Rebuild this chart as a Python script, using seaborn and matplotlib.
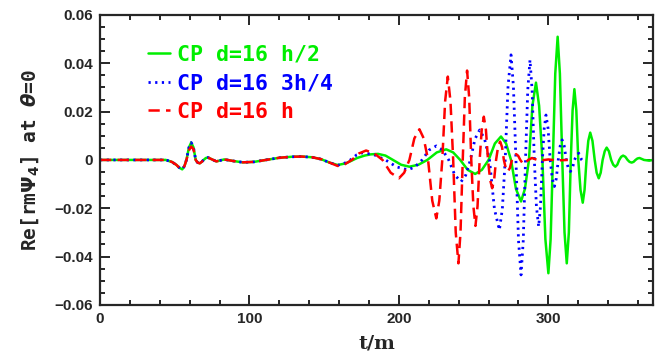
import numpy as np
import pandas as pd
import matplotlib
matplotlib.use("Agg")
import matplotlib.pyplot as plt
import seaborn as sns
from matplotlib.ticker import MultipleLocator, FuncFormatter

# ---------------- data ----------------
labels = ["CP d=16 h/2", "CP d=16 3h/4", "CP d=16 h"]
colors = ["#00ee00", "#0000ff", "#ff0000"]

t_early = [0, 44, 48, 51, 53, 55, 56.5, 57.8, 59.5, 61, 62.5, 64, 65.3, 66.7, 68, 69.3,
           70.8, 72.2, 75, 77.8, 80.5, 83, 86, 88.7, 95.6, 103, 111, 120, 128, 135,
           142, 148, 154]
v_early_gb = [0, 0, -0.0008, -0.002, -0.0032, -0.0039, -0.0025, 0, 0.0052, 0.0072,
              0.0052, 0, -0.0011, -0.0014, -0.0008, 0, 0.0008, 0.001, 0.0002, -0.0006,
              -0.0002, 0.0002, -0.0001, -0.0004, -0.001, -0.0008, 0, 0.0009, 0.0013, 0.0014,
              0.0011, 0.0003, -0.0012]
v_early_r = [0, 0, -0.0008, -0.002, -0.0032, -0.0039, -0.0025, 0, 0.0040, 0.0055,
             0.0045, 0, -0.0011, -0.0014, -0.0008, 0, 0.0008, 0.001, 0.0002, -0.0006,
             -0.0002, 0.0002, -0.0001, -0.0004, -0.001, -0.0008, 0, 0.0009, 0.0013, 0.0014,
             0.0011, 0.0003, -0.0012]

t_green = [159, 164.5, 168, 172, 177, 181, 186,
           191, 196, 201.5, 207,
           213, 219, 225.3, 231.6,
           236.3, 241, 246, 251,
           255.5, 260, 264.2, 268.3,
           271.7, 275, 278.3, 281.7,
           284.3, 287, 289.3, 291.7,
           293.8, 296, 298, 300,
           301.5, 303, 304.6, 306.2,
           307.7, 309.3, 310.8, 312.3,
           313.7, 315, 316.2, 317.4,
           318.7, 320, 321.5, 323,
           324.2, 325.5, 326.7, 328,
           329.5, 331, 332.3, 333.7,
           335, 336.3, 337.7, 339,
           340.5, 342, 343.4, 344.8,
           346.1, 347.4, 348.7, 350,
           351.5, 353, 354.3, 355.7,
           357, 358.3, 359.6, 361,
           364, 367.5, 370]
v_green = [-0.0021, -0.0014, -0.0004, 0.0008, 0.0018, 0.0023, 0.0025,
           0.0018, 0, -0.002, -0.0028,
           -0.002, 0, 0.0031, 0.0044,
           0.0031, 0, -0.0041, -0.0058,
           -0.0041, 0, 0.0068, 0.0097,
           0.0068, 0, -0.012, -0.0172,
           -0.012, 0, 0.0224, 0.032,
           0.0224, 0, -0.0328, -0.0469,
           -0.0328, 0, 0.0357, 0.051,
           0.0357, 0, -0.030, -0.0428,
           -0.030, 0, 0.0205, 0.0293,
           0.0205, 0, -0.0124, -0.0177,
           -0.0124, 0, 0.0079, 0.0113,
           0.0079, 0, -0.0053, -0.0076,
           -0.0053, 0, 0.0036, 0.0051,
           0.0036, 0, -0.002, -0.0028,
           -0.002, 0, 0.0013, 0.0018,
           0.0013, 0, -0.0008, -0.0011,
           -0.0008, 0, 0.0006, 0.0008,
           0, -0.0003, 0]

t_blue = [159, 163.2, 167.5, 171.7, 176,
          183.5, 191, 198.5, 206,
          210.7, 215.5, 220.2, 225,
          229.2, 233.3, 237.4, 241.6,
          244.7, 247.8, 250.9, 254,
          257.3, 260.6, 263.9, 267.2,
          269.2, 271.1, 273, 275,
          276.6, 278.3, 280, 281.7,
          283.2, 284.7, 286.2, 287.7,
          289.1, 290.6, 292, 293.5,
          294.7, 296, 297.2, 298.4,
          299.8, 301.2, 302.6, 304,
          305.3, 306.6, 307.9, 309.2,
          310.6, 312, 313.3, 314.7,
          316.1, 317.5, 318.9, 320.3,
          322.3, 324]
v_blue = [-0.0022, -0.0015, 0, 0.0021, 0.003,
          0.0021, 0, -0.0029, -0.0041,
          -0.0029, 0, 0.0041, 0.0058,
          0.0041, 0, -0.0063, -0.009,
          -0.0063, 0, 0.0087, 0.0124,
          0.0087, 0, -0.0203, -0.029,
          -0.0203, 0, 0.0305, 0.0435,
          0.0305, 0, -0.0333, -0.0476,
          -0.0333, 0, 0.029, 0.0414,
          0.029, 0, -0.0193, -0.0276,
          -0.0193, 0, 0.013, 0.0186,
          0.013, 0, -0.0077, -0.011,
          -0.0077, 0, 0.0058, 0.0083,
          0.0058, 0, -0.0034, -0.0048,
          -0.0034, 0, 0.002, 0.0028,
          0, -0.0011]

t_red = [159, 163.7, 168.5, 173.3, 178,
         183.5, 189, 194.5, 200,
         203.5, 207, 210.3, 213.7,
         216.6, 219.5, 222.3, 225,
         227, 229, 230.9, 232.7,
         234.5, 236.3, 238, 239.8,
         241.2, 242.7, 244.1, 245.6,
         247, 248.4, 249.8, 251.2,
         252.6, 254, 255.4, 256.8,
         258.2, 259.6, 261, 262.4,
         263.7, 265, 266.3, 267.7,
         269, 270.2, 271.5, 272.8,
         274.2, 275.6, 277, 278.4,
         279.8, 281.2, 282.6, 284,
         286.5, 289, 294, 300, 306, 313]
v_red = [-0.0025, -0.0018, 0, 0.0027, 0.0039,
         0.0027, 0, -0.0053, -0.0076,
         -0.0053, 0, 0.0089, 0.0127,
         0.0089, 0, -0.0169, -0.0242,
         -0.0169, 0, 0.0242, 0.0345,
         0.0242, 0, -0.030, -0.0428,
         -0.030, 0, 0.0259, 0.037,
         0.0259, 0, -0.0191, -0.0273,
         -0.0191, 0, 0.0125, 0.0179,
         0.0125, 0, -0.0082, -0.0117,
         -0.0082, 0, 0.0053, 0.0076,
         0.0053, 0, -0.0034, -0.0048,
         -0.0034, 0, 0.0017, 0.0024,
         0.0017, 0, -0.0012, -0.0017,
         0, 0.0008, -0.0003, 0.0002, -0.0002, 0]

# ---------------- build table ----------------
frames = []
for lab, te, ve, tl, vl in [
    (labels[0], t_early, v_early_gb, t_green, v_green),
    (labels[1], t_early, v_early_gb, t_blue, v_blue),
    (labels[2], t_early, v_early_r, t_red, v_red),
]:
    frames.append(pd.DataFrame({"t": list(te) + list(tl),
                                "v": list(ve) + list(vl),
                                "run": lab}))
df = pd.concat(frames, ignore_index=True)

# ---------------- plot ----------------
sns.set_style("ticks")
plt.rcParams["font.family"] = ["Liberation Sans", "DejaVu Sans"]
plt.rcParams["font.weight"] = "bold"
plt.rcParams["axes.linewidth"] = 1.6
plt.rcParams["mathtext.fontset"] = "dejavusans"
plt.rcParams["mathtext.default"] = "bf"

fig = plt.figure(figsize=(6.67, 3.57), dpi=100)
ax = fig.add_axes([0.150, 0.146, 0.829, 0.812])

styles = {labels[0]: dict(ls="-", lw=1.8),
          labels[1]: dict(ls=(0, (0.8, 1.6)), lw=2.0),
          labels[2]: dict(ls=(0, (4.5, 2.5)), lw=1.8)}

for lab, col in zip(labels, colors):
    sub = df[df["run"] == lab]
    sns.lineplot(data=sub, x="t", y="v", ax=ax, color=col, label=lab,
                 estimator=None, sort=False, **styles[lab])

ax.set_xlim(0, 370)
ax.set_ylim(-0.06, 0.06)
ax.xaxis.set_major_locator(MultipleLocator(100))
ax.xaxis.set_minor_locator(MultipleLocator(20))
ax.yaxis.set_major_locator(MultipleLocator(0.02))
ax.yaxis.set_minor_locator(MultipleLocator(0.005))

def yfmt(v, pos):
    if abs(v) < 1e-9:
        return "0"
    return ("%.2f" % v).replace("-", "\u2212")

ax.yaxis.set_major_formatter(FuncFormatter(yfmt))
ax.xaxis.set_major_formatter(FuncFormatter(lambda v, p: "%d" % v))

ax.tick_params(which="both", direction="in", top=True, right=True, width=1.4,
               labelsize=11, pad=5)
ax.tick_params(which="major", length=7)
ax.tick_params(which="minor", length=3.5)
for lbl in ax.get_xticklabels() + ax.get_yticklabels():
    lbl.set_fontweight("bold")

ax.set_xlabel("t/m", fontsize=14, fontweight="bold", family="DejaVu Serif", labelpad=6)
ax.set_ylabel(r"Re[rm$\Psi_4$] at $\it{\theta}$=0", fontsize=14, fontweight="bold",
              family=["DejaVu Sans Mono", "DejaVu Sans"], labelpad=10)

leg = ax.legend(loc="upper left", bbox_to_anchor=(0.052, 0.965), frameon=False,
                handlelength=1.0, handletextpad=0.35, labelspacing=0.4,
                prop={"size": 15.5, "weight": "bold", "family": "DejaVu Sans Mono"},
                labelcolor="linecolor")

fig.savefig("out.png", dpi=100)
